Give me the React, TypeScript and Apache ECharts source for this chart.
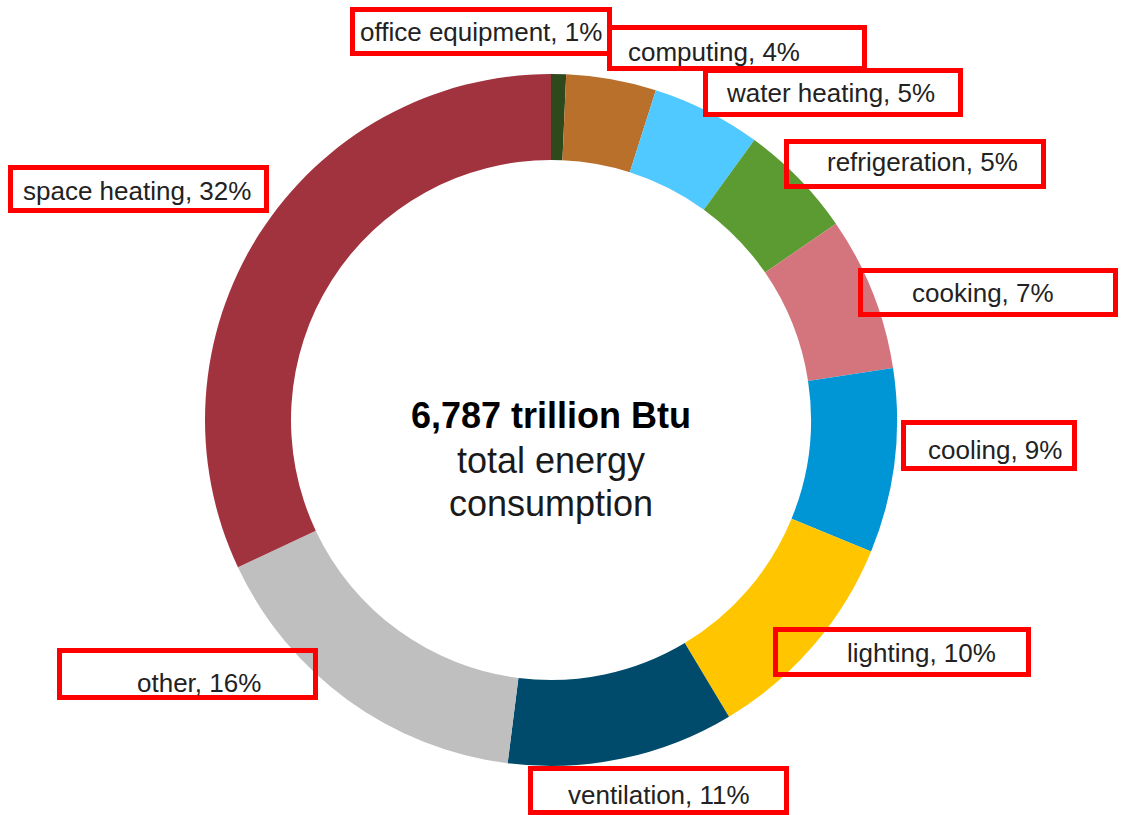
import React, { useEffect, useRef } from "react";
import * as echarts from "echarts";

// ---- data ----
const categories = [
  "office equipment",
  "computing",
  "water heating",
  "refrigeration",
  "cooking",
  "cooling",
  "lighting",
  "ventilation",
  "other",
  "space heating",
];
// share of total energy consumption (%)
const shares = [0.7, 4.2, 5.1, 5.4, 7.2, 8.6, 10.2, 10.6, 16.0, 32.0];
const colors = [
  "#2E4A1C",
  "#B9702B",
  "#4FC9FF",
  "#5C9A32",
  "#D4757E",
  "#0096D6",
  "#FFC600",
  "#004A6B",
  "#BFBFBF",
  "#A1333F",
];
const centerTitle = "6,787 trillion Btu";
const centerLines = ["total energy", "consumption"];

// ---- layout (label boxes: outer x, y, w, h ; text anchor: left x, middle y) ----
const labelBoxes = [
  [350, 7, 262, 49],
  [607, 25, 260, 46],
  [703, 68, 260, 49],
  [784, 139, 262, 50],
  [858, 268, 260, 49],
  [901, 420, 176, 51],
  [773, 627, 258, 50],
  [528, 766, 261, 49],
  [57, 648, 261, 52],
  [8, 165, 261, 48],
];
const labelAnchors = [
  [360, 32],
  [628, 52],
  [727, 93],
  [827, 162],
  [912, 293],
  [928, 450],
  [847, 653],
  [568, 795],
  [137, 683],
  [23, 191],
];

const CX = 551;
const CY = 420;

export default function App() {
  const ref = useRef<HTMLDivElement>(null);

  useEffect(() => {
    if (!ref.current) return;
    const chart = echarts.init(ref.current, null, { renderer: "svg" });
    const total = shares.reduce((a, b) => a + b, 0);
    const BW = 5;

    const labelGraphics: any[] = [];
    categories.forEach((name, i) => {
      const [bx, by, bw, bh] = labelBoxes[i];
      const [tx, ty] = labelAnchors[i];
      const pct = Math.round((shares[i] / total) * 100);
      labelGraphics.push({
        type: "rect",
        z: 10,
        shape: { x: bx + BW / 2, y: by + BW / 2, width: bw - BW, height: bh - BW },
        style: { fill: "none", stroke: "#FF0000", lineWidth: BW },
      });
      labelGraphics.push({
        type: "text",
        z: 11,
        x: tx,
        y: ty,
        style: {
          text: `${name}, ${pct}%`,
          fill: "#222222",
          font: "26px 'Liberation Sans', Arial, sans-serif",
          textAlign: "left",
          textVerticalAlign: "middle",
        },
      });
    });

    chart.setOption({
      animation: false,
      backgroundColor: "#ffffff",
      series: [
        {
          type: "pie",
          center: [CX, CY],
          radius: [260, 346],
          startAngle: 90,
          clockwise: true,
          avoidLabelOverlap: false,
          label: { show: false },
          labelLine: { show: false },
          emphasis: { disabled: true },
          itemStyle: { borderWidth: 0 },
          data: categories.map((name, i) => ({
            name,
            value: shares[i],
            itemStyle: { color: colors[i] },
          })),
        },
      ],
      graphic: [
        {
          type: "text",
          x: CX,
          y: 415,
          style: {
            text: centerTitle,
            fill: "#000000",
            font: "bold 36px 'Liberation Sans', Arial, sans-serif",
            textAlign: "center",
            textVerticalAlign: "middle",
          },
        },
        {
          type: "text",
          x: CX,
          y: 460,
          style: {
            text: centerLines[0],
            fill: "#1a1a1a",
            font: "36px 'Liberation Sans', Arial, sans-serif",
            textAlign: "center",
            textVerticalAlign: "middle",
          },
        },
        {
          type: "text",
          x: CX,
          y: 503,
          style: {
            text: centerLines[1],
            fill: "#1a1a1a",
            font: "36px 'Liberation Sans', Arial, sans-serif",
            textAlign: "center",
            textVerticalAlign: "middle",
          },
        },
        ...labelGraphics,
      ],
    });
    return () => chart.dispose();
  }, []);

  return (
    <div
      ref={ref}
      style={{ position: "absolute", left: 0, top: 0, width: 1127, height: 815 }}
    />
  );
}
